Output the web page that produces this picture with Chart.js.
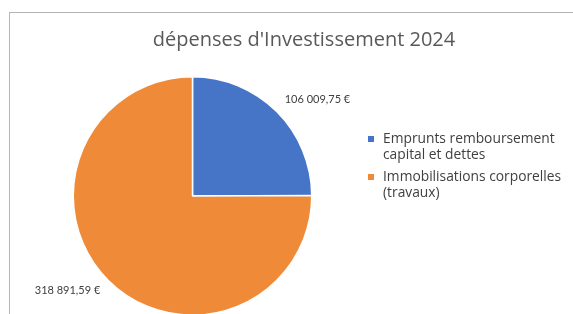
<!DOCTYPE html>
<html>
<head>
<meta charset="utf-8">
<script src="https://cdn.jsdelivr.net/npm/chart.js@4"></script>
<style>
  html, body { margin: 0; padding: 0; background: #ffffff; overflow: hidden; }
  #wrap { position: relative; width: 573px; height: 314px; overflow: hidden; }
  #frame { position: absolute; left: 9px; top: 12px; width: 600px; height: 340px; border: 1px solid #b4b4b4; box-sizing: border-box; }
  #chartBox { position: absolute; left: 0; top: 0; width: 573px; height: 340px; }
</style>
</head>
<body>
<div id="wrap">
  <div id="frame"></div>
  <div id="chartBox"><canvas id="pie"></canvas></div>
</div>
<script>
// Chart data
const chartTitle = "dépenses d'Investissement 2024";
const categories = [
    ['Emprunts remboursement', 'capital et dettes'],
    ['Immobilisations corporelles', '(travaux)']
];
const amounts = [106009.75, 318891.59];
const valueLabels = ['106 009,75 €', '318 891,59 €'];
const sliceColors = ['#4675c8', '#ef8b38'];

const textColor = '#404040';
const fontFamily = '"Open Sans", Lato, sans-serif';

// Title centred on the whole frame (the built-in one follows the padded pie box)
const frameTitlePlugin = {
    id: 'frameTitle',
    afterDraw(chart) {
        const ctx = chart.ctx;
        ctx.save();
        ctx.font = '20px ' + fontFamily;
        ctx.fillStyle = '#595959';
        ctx.textAlign = 'center';
        ctx.textBaseline = 'middle';
        ctx.fillText(chartTitle, 304, 40);
        ctx.restore();
    }
};

// Excel-like labels next to the outer edge of each slice
const valueLabelPlugin = {
    id: 'valueLabels',
    afterDatasetsDraw(chart) {
        const ctx = chart.ctx;
        const meta = chart.getDatasetMeta(0);
        ctx.save();
        ctx.font = '11px Lato, sans-serif';
        ctx.fillStyle = textColor;
        ctx.textBaseline = 'middle';
        meta.data.forEach((arc, i) => {
            const p = arc.getProps(['x', 'y', 'startAngle', 'endAngle', 'outerRadius'], true);
            const mid = (p.startAngle + p.endAngle) / 2;
            const ex = p.x + Math.cos(mid) * p.outerRadius;
            const ey = p.y + Math.sin(mid) * p.outerRadius;
            const right = Math.cos(mid) >= 0;
            const down = Math.sin(mid) >= 0;
            ctx.textAlign = right ? 'left' : 'right';
            ctx.fillText(valueLabels[i], ex + (right ? 8 : -8), ey + (down ? 10 : -12));
        });
        ctx.restore();
    }
};

// Legend with wrapped labels, drawn to the right of the pie
const sideLegendPlugin = {
    id: 'sideLegend',
    afterDraw(chart) {
        const ctx = chart.ctx;
        const x = 368;
        let y = 139;
        const lineH = 16.5;
        ctx.save();
        ctx.font = '13.8px ' + fontFamily;
        ctx.textBaseline = 'middle';
        ctx.textAlign = 'left';
        chart.data.labels.forEach((lines, i) => {
            ctx.fillStyle = chart.data.datasets[0].backgroundColor[i];
            ctx.fillRect(x, y - 3, 6, 6);
            ctx.fillStyle = textColor;
            lines.forEach((line, j) => {
                ctx.fillText(line, x + 15, y + j * lineH);
            });
            y += lines.length * lineH + 5;
        });
        ctx.restore();
    }
};

function initChart() {
    const ctx = document.getElementById('pie').getContext('2d');
    new Chart(ctx, {
        type: 'pie',
        data: {
            labels: categories,
            datasets: [{
                data: amounts,
                backgroundColor: sliceColors,
                borderColor: '#ffffff',
                borderWidth: 1.5
            }]
        },
        options: {
            responsive: true,
            maintainAspectRatio: false,
            animation: false,
            rotation: 0,
            layout: {
                padding: { left: 72, right: 260, top: 76, bottom: 24 }
            },
            plugins: {
                legend: { display: false },
                tooltip: { enabled: false },
                title: { display: false }
            }
        },
        plugins: [frameTitlePlugin, valueLabelPlugin, sideLegendPlugin]
    });
}

initChart();
</script>
</body>
</html>
